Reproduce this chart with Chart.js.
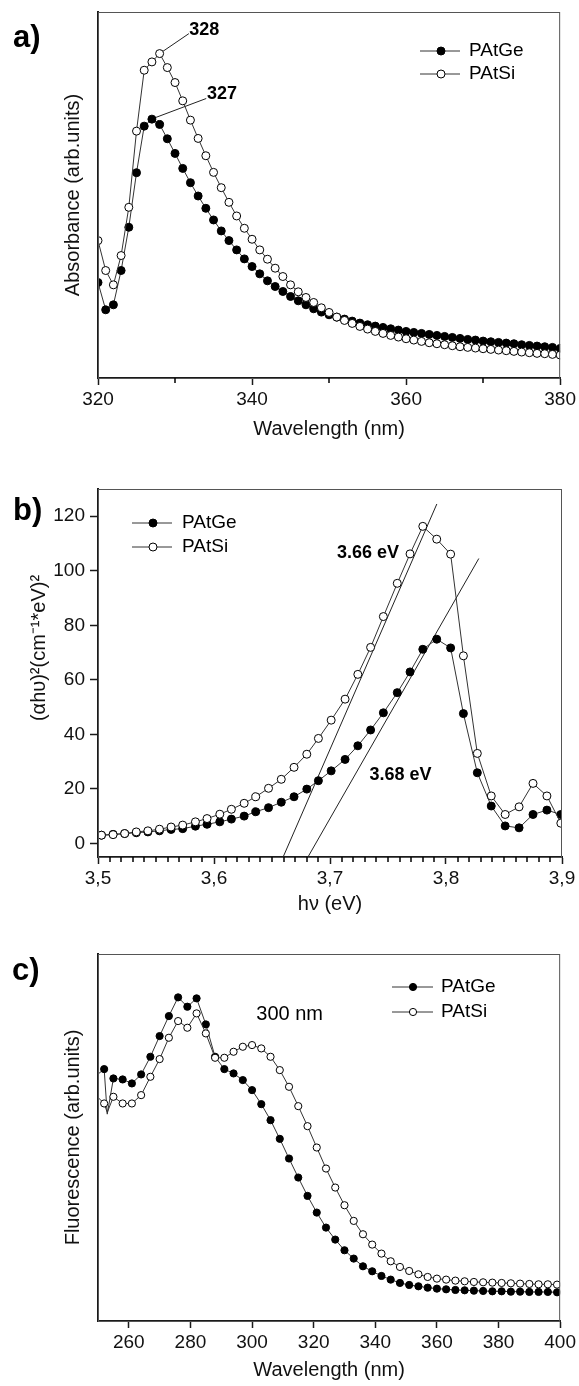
<!DOCTYPE html>
<html>
<head>
<meta charset="utf-8">
<script src="https://cdn.jsdelivr.net/npm/chart.js@4.4.1/dist/chart.umd.min.js"></script>
<style>
  html, body { margin: 0; padding: 0; background: #fff; }
  canvas { position: absolute; left: 0; }
</style>
</head>
<body>
<canvas id="chartA" width="579" height="460" style="top:0px"></canvas>
<canvas id="chartB" width="579" height="460" style="top:460px"></canvas>
<canvas id="chartC" width="579" height="466" style="top:920px"></canvas>
<script>
// a) absorbance, one point per nm
const absWavelength = [320, 321, 322, 323, 324, 325, 326, 327, 328, 329, 330, 331, 332, 333, 334, 335, 336, 337, 338, 339,
  340, 341, 342, 343, 344, 345, 346, 347, 348, 349, 350, 351, 352, 353, 354, 355, 356, 357, 358, 359,
  360, 361, 362, 363, 364, 365, 366, 367, 368, 369, 370, 371, 372, 373, 374, 375, 376, 377, 378, 379, 380];
const absPAtGe = [28.7, 20.5, 22.0, 32.3, 45.3, 61.7, 75.7, 77.8, 76.2, 71.9, 67.5, 63.0, 58.7, 54.7, 51.0, 47.5, 44.2, 41.3, 38.5, 35.8,
  33.5, 31.3, 29.2, 27.5, 26.0, 24.5, 23.2, 22.0, 20.8, 19.8, 19.0, 18.3, 17.7, 17.1, 16.5, 16.0, 15.6, 15.2, 14.8, 14.4,
  14.0, 13.7, 13.4, 13.1, 12.8, 12.5, 12.2, 11.9, 11.6, 11.4, 11.1, 10.9, 10.7, 10.5, 10.3, 10.0, 9.8, 9.6, 9.4, 9.2, 8.9];
const absPAtSi = [41.3, 32.3, 28.0, 36.8, 51.3, 74.2, 92.5, 95.0, 97.5, 93.3, 88.8, 83.3, 77.5, 72.0, 66.8, 61.8, 57.2, 52.8, 48.7, 45.0,
  41.7, 38.5, 35.7, 33.0, 30.5, 28.0, 25.9, 24.2, 22.7, 21.1, 19.7, 18.3, 17.3, 16.4, 15.5, 14.7, 14.0, 13.4, 12.8, 12.3,
  11.8, 11.4, 11.0, 10.6, 10.3, 10.0, 9.7, 9.4, 9.2, 9.0, 8.8, 8.6, 8.4, 8.2, 8.0, 7.8, 7.6, 7.4, 7.3, 7.1, 6.9];
const absMinorTicks = [330, 350, 370];
const peakLeader328 = [{x: 328.0, y: 97.5}, {x: 331.8, y: 103.5}];
const peakLeader327 = [{x: 327.15, y: 78.0}, {x: 334.05, y: 84.0}];

// b) Tauc plot
const tauEnergy = [3.503, 3.513, 3.523, 3.533, 3.543, 3.553, 3.563, 3.573, 3.584, 3.594, 3.605, 3.615, 3.626, 3.636, 3.647,
  3.658, 3.669, 3.680, 3.690, 3.701, 3.713, 3.724, 3.735, 3.746, 3.758, 3.769, 3.780, 3.792, 3.804, 3.815,
  3.827, 3.839, 3.851, 3.863, 3.875, 3.887, 3.899];
const tauPAtGe = [3.0, 3.3, 3.6, 3.9, 4.2, 4.6, 5.1, 5.4, 6.3, 7.0, 7.9, 8.9, 10.0, 11.6, 13.1,
  15.1, 17.1, 19.9, 23.0, 26.6, 30.8, 35.8, 41.6, 47.9, 55.3, 62.9, 71.2, 74.9, 71.7, 47.6,
  25.9, 13.7, 6.4, 5.7, 10.6, 12.2, 10.6];
const tauPAtSi = [3.0, 3.2, 3.6, 4.2, 4.6, 5.2, 6.0, 6.7, 7.9, 9.1, 10.7, 12.5, 14.7, 17.1, 20.2,
  23.5, 27.9, 32.7, 38.5, 45.2, 52.9, 62.0, 71.9, 83.2, 95.4, 106.2, 116.3, 111.6, 106.1, 68.8,
  33.0, 17.4, 10.6, 13.4, 22.0, 17.4, 7.4];
const tangentSi = [{x: 3.6596, y: -5}, {x: 3.7921, y: 124.5}];
const tangentGe = [{x: 3.681, y: -5}, {x: 3.8283, y: 104.5}];
const energyTickLabels = ['3,5', '3,6', '3,7', '3,8', '3,9'];
const energyMinorTicks = [3.51, 3.52, 3.53, 3.54, 3.55, 3.56, 3.57, 3.58, 3.59,
  3.61, 3.62, 3.63, 3.64, 3.65, 3.66, 3.67, 3.68, 3.69,
  3.71, 3.72, 3.73, 3.74, 3.75, 3.76, 3.77, 3.78, 3.79,
  3.81, 3.82, 3.83, 3.84, 3.85, 3.86, 3.87, 3.88, 3.89];
const tauTicks = [0, 20, 40, 60, 80, 100, 120];

// c) fluorescence
const fluoWavelength = [250, 252, 253, 255, 258, 261, 264, 267, 270, 273, 276, 279, 282, 285, 288, 291, 294, 297, 300,
  303, 306, 309, 312, 315, 318, 321, 324, 327, 330, 333, 336, 339, 342, 345, 348, 351, 354, 357, 360,
  363, 366, 369, 372, 375, 378, 381, 384, 387, 390, 393, 396, 399];
const fluoPAtGe = [74.0, 75.5, 62.0, 72.7, 72.4, 71.2, 73.9, 79.2, 85.4, 91.4, 97.0, 94.2, 96.7, 88.9, 79.2, 75.5, 74.2, 72.2, 69.2,
  65.0, 60.2, 54.6, 48.7, 43.0, 37.5, 32.5, 28.0, 24.4, 21.2, 18.7, 16.4, 14.9, 13.5, 12.4, 11.4, 10.8, 10.4, 10.0, 9.7,
  9.5, 9.3, 9.2, 9.1, 9.0, 8.9, 8.9, 8.8, 8.8, 8.7, 8.7, 8.7, 8.6];
const fluoPAtSi = [67.0, 65.2, 62.5, 67.2, 65.2, 65.2, 67.7, 73.2, 78.5, 84.9, 89.9, 87.9, 92.2, 86.2, 78.9, 78.9, 80.7, 82.2, 82.7,
  81.7, 79.2, 75.2, 70.2, 64.4, 58.4, 52.0, 45.7, 40.0, 34.7, 30.0, 26.0, 22.9, 20.2, 17.9, 16.2, 15.0, 14.0, 13.2, 12.7,
  12.4, 12.1, 11.9, 11.7, 11.6, 11.5, 11.4, 11.3, 11.2, 11.1, 11.0, 11.0, 10.9];
const fluoLineOnly = [250, 253];

const minorTicksByChart = {chartA: absMinorTicks, chartB: energyMinorTicks, chartC: []};

const FONT = '"Liberation Sans", Arial, sans-serif';
const INK = '#1a1a1a';
Chart.defaults.font.family = FONT;
Chart.defaults.color = '#111';

function pairs(xs, ys) {
  return xs.map((x, i) => ({x: x, y: ys[i]}));
}

function curve(label, data, filled, radius) {
  return {
    label: label,
    data: data,
    borderColor: '#333',
    borderWidth: 1,
    pointRadius: radius,
    pointBackgroundColor: filled ? '#000' : '#fff',
    pointBorderColor: '#000',
    pointBorderWidth: 1,
    order: filled ? 1 : 0
  };
}

function guide(data) {
  return {data: data, borderColor: '#222', borderWidth: 1, pointRadius: 0, order: 2};
}

function xAxis(min, max, step, title, height) {
  return {
    type: 'linear', position: 'bottom', min: min, max: max,
    ticks: {stepSize: step, font: {size: 19}, color: '#111', padding: 3, maxRotation: 0, autoSkip: false},
    grid: {drawOnChartArea: false, tickLength: 7, tickWidth: 1.5, tickColor: INK},
    border: {display: true, width: 2, color: INK},
    title: {display: true, text: title, font: {size: 20}, color: '#111', padding: {top: 0, bottom: 0}},
    afterFit: s => { s.height = height; }
  };
}

function yAxis(min, max, title, titleX, extra) {
  return Object.assign({
    type: 'linear', min: min, max: max,
    ticks: {display: false},
    grid: {display: false},
    border: {display: true, width: 2, color: INK},
    title: {display: true, text: title, font: {size: 20}, color: '#111', padding: {top: titleX - 12, bottom: 0}},
    afterFit: s => { s.width = 98; }
  }, extra || {});
}

const decorate = {
  id: 'decorate',
  afterDraw(chart, args, o) {
    const {ctx, chartArea: area, scales} = chart;
    ctx.save();
    ctx.strokeStyle = '#555';
    ctx.lineWidth = 1;
    ctx.strokeRect(area.left + 0.5, area.top + 0.5, area.right - area.left - 1, area.bottom - area.top);

    // short minor ticks under the x axis, placed by the x scale
    ctx.strokeStyle = '#000';
    ctx.lineWidth = 1.5;
    (minorTicksByChart[chart.canvas.id] || []).forEach(v => {
      const px = Math.round(scales.x.getPixelForValue(v));
      ctx.beginPath();
      ctx.moveTo(px, area.bottom);
      ctx.lineTo(px, area.bottom + 5);
      ctx.stroke();
    });

    ctx.fillStyle = '#000';
    ctx.textAlign = 'center';
    ctx.textBaseline = 'middle';
    (o.notes || []).forEach(n => {
      ctx.font = (n.bold ? 'bold ' : '') + n.size + 'px ' + FONT;
      ctx.fillText(n.text, scales.x.getPixelForValue(n.x), scales.y.getPixelForValue(n.y));
    });

    const lg = o.legend;
    chart.data.datasets.slice(0, 2).forEach((ds, i) => {
      const yy = lg.rows[i];
      ctx.beginPath();
      ctx.moveTo(lg.x0, yy);
      ctx.lineTo(lg.x1, yy);
      ctx.strokeStyle = '#333';
      ctx.lineWidth = 1;
      ctx.stroke();
      ctx.beginPath();
      ctx.arc(lg.mark, yy, lg.radius, 0, Math.PI * 2);
      ctx.fillStyle = ds.pointBackgroundColor;
      ctx.fill();
      ctx.strokeStyle = '#000';
      ctx.stroke();
      ctx.fillStyle = '#000';
      ctx.font = '19px ' + FONT;
      ctx.textAlign = 'left';
      ctx.fillText(ds.label, lg.text, yy);
    });

    ctx.font = 'bold 31px ' + FONT;
    ctx.textAlign = 'left';
    ctx.textBaseline = 'alphabetic';
    ctx.fillText(o.tag.text, o.tag.x, o.tag.y);
    ctx.restore();
  }
};

function baseOptions(padding, scales, deco) {
  return {
    responsive: false,
    animation: false,
    events: [],
    devicePixelRatio: 1,
    layout: {padding: padding, autoPadding: false},
    plugins: {legend: {display: false}, tooltip: {enabled: false}, decorate: deco},
    scales: scales
  };
}

// a)
new Chart(document.getElementById('chartA'), {
  type: 'line',
  data: {
    datasets: [
      curve('PAtGe', pairs(absWavelength, absPAtGe), true, 4),
      curve('PAtSi', pairs(absWavelength, absPAtSi), false, 4),
      guide(peakLeader328),
      guide(peakLeader327)
    ]
  },
  options: baseOptions({left: 0, top: 12, right: 17, bottom: 19}, {
    x: xAxis(320, 380, 20, 'Wavelength (nm)', 63),
    y: yAxis(0, 110, 'Absorbance (arb.units)', 73.5)
  }, {
    tag: {text: 'a)', x: 13, y: 47},
    legend: {x0: 420, x1: 460, mark: 441, text: 469, rows: [51, 74], radius: 4},
    notes: [
      {text: '328', x: 333.8, y: 104.7, bold: true, size: 18},
      {text: '327', x: 336.1, y: 85.4, bold: true, size: 18}
    ]
  }),
  plugins: [decorate]
});

// b)
const optsB = baseOptions({left: 0, top: 29, right: 17, bottom: 4}, {
  x: xAxis(3.5, 3.9, 0.1, 'h\u03bd (eV)', 59),
  y: yAxis(-5, 130, '         (\u03b1h\u03c5)\u00b2(cm\u207b\u00b9*eV)\u00b2', 39, {
    ticks: {
      display: true, stepSize: 20, includeBounds: false, font: {size: 19}, color: '#111', padding: 5,
      callback: v => (tauTicks.includes(v) ? String(v) : '')
    },
    grid: {display: true, drawOnChartArea: false, tickLength: 8, tickWidth: 1.5, tickColor: INK}
  })
}, {
  tag: {text: 'b)', x: 13, y: 60},
  legend: {x0: 132, x1: 172, mark: 153, text: 182, rows: [63, 87], radius: 4},
  notes: [
    {text: '3.66 eV', x: 3.7327, y: 106.6, bold: true, size: 18},
    {text: '3.68 eV', x: 3.7608, y: 24.9, bold: true, size: 18}
  ]
});
optsB.scales.x.ticks.callback = (v, i) => energyTickLabels[i];

new Chart(document.getElementById('chartB'), {
  type: 'line',
  data: {
    datasets: [
      curve('PAtGe', pairs(tauEnergy, tauPAtGe), true, 4),
      curve('PAtSi', pairs(tauEnergy, tauPAtSi), false, 4),
      guide(tangentSi),
      guide(tangentGe)
    ]
  },
  options: optsB,
  plugins: [decorate]
});

// c)
const optsC = baseOptions({left: 0, top: 34, right: 17, bottom: 4}, {
  x: xAxis(250, 400, 20, 'Wavelength (nm)', 61),
  y: yAxis(0, 110, 'Fluorescence (arb.units)', 73.5)
}, {
  tag: {text: 'c)', x: 12, y: 60},
  legend: {x0: 392, x1: 433, mark: 413, text: 441, rows: [67, 92], radius: 3.6},
  notes: [
    {text: '300 nm', x: 312.2, y: 91.85, bold: false, size: 20}
  ]
});
optsC.scales.x.ticks.includeBounds = false;

new Chart(document.getElementById('chartC'), {
  type: 'line',
  data: {
    datasets: [
      Object.assign(curve('PAtGe', pairs(fluoWavelength, fluoPAtGe), true, 3.6),
        {pointRadius: c => (c.raw && fluoLineOnly.includes(c.raw.x) ? 0 : 3.6)}),
      Object.assign(curve('PAtSi', pairs(fluoWavelength, fluoPAtSi), false, 3.6),
        {pointRadius: c => (c.raw && fluoLineOnly.includes(c.raw.x) ? 0 : 3.6)})
    ]
  },
  options: optsC,
  plugins: [decorate]
});
</script>
</body>
</html>
